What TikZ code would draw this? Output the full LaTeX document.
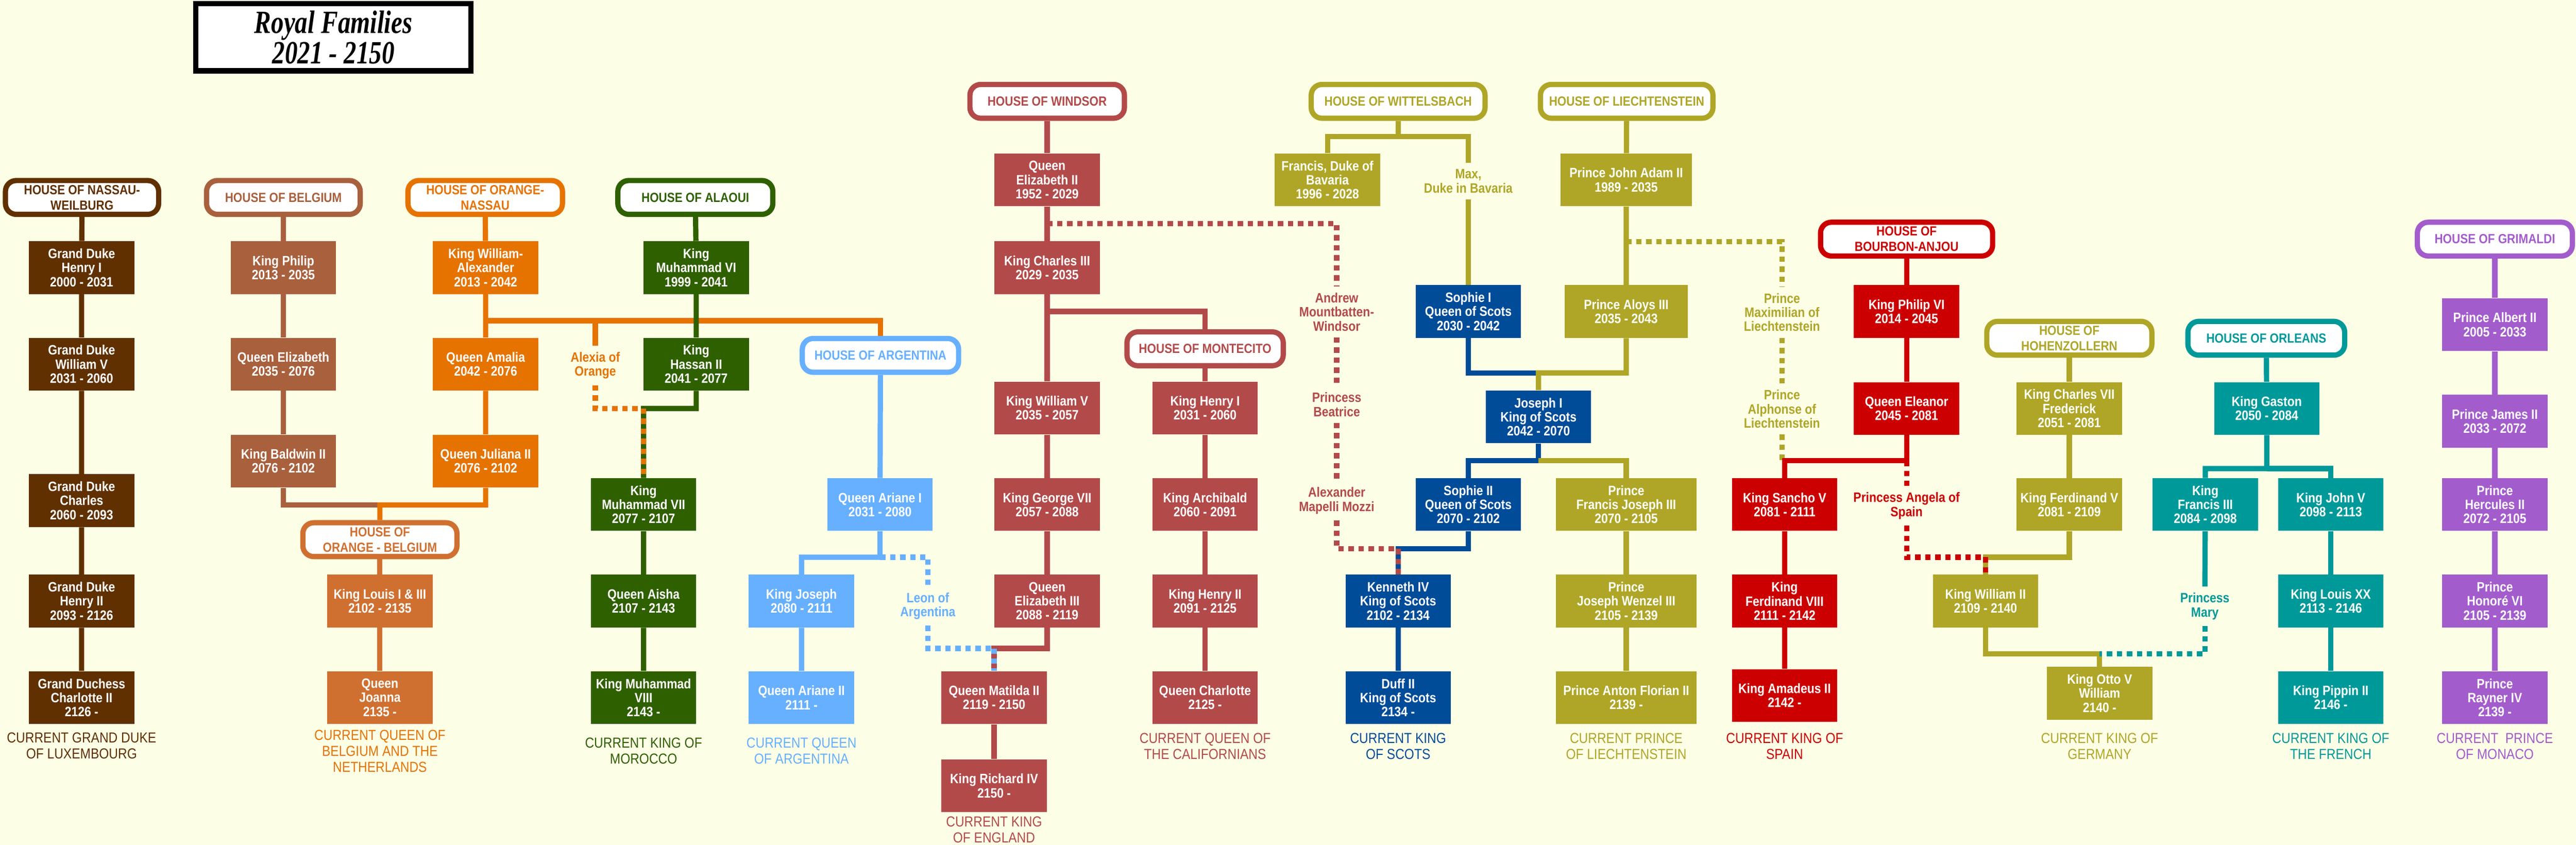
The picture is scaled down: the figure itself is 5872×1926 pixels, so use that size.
\documentclass[tikz,border=0pt]{standalone}
\usepackage{fontspec}
\setmainfont{Liberation Sans}
\newfontfamily\condfont{Liberation Sans}[FakeStretch=0.87]
\newfontfamily\titlefont{Liberation Serif}[FakeStretch=0.78]
\definecolor{bgc}{HTML}{FDFEE6}
\definecolor{nas}{HTML}{603000}
\definecolor{bel}{HTML}{A9603D}
\definecolor{ora}{HTML}{E67300}
\definecolor{orb}{HTML}{D07030}
\definecolor{grn}{HTML}{2F6000}
\definecolor{arg}{HTML}{66B0FF}
\definecolor{win}{HTML}{B34A4A}
\definecolor{oli}{HTML}{AFA627}
\definecolor{sco}{HTML}{004C99}
\definecolor{red}{HTML}{CC0000}
\definecolor{tea}{HTML}{009999}
\definecolor{pur}{HTML}{A35CCC}
\pgfdeclarelayer{bg}
\pgfsetlayers{bg,main}
\tikzset{
 pbox/.style={rectangle, fill=#1, minimum width=2.4cm, minimum height=1.2cm, inner sep=1pt, align=center, text=white, font=\condfont\fontsize{8.8}{9.1}\selectfont\bfseries},
 hb/.style={rectangle, draw=#1, text=#1, fill=white, line width=3.4pt, rounded corners=7pt, minimum height=0.77cm, align=center, inner sep=1pt, font=\condfont\fontsize{8.6}{10}\selectfont\bfseries},
 lbl/.style={text=#1, align=center, font=\condfont\fontsize{8.8}{9.1}\selectfont\bfseries, inner sep=4pt},
 cap/.style={text=#1, align=center, font=\condfont\fontsize{9.4}{10.3}\selectfont},
 ln/.style={draw=#1, line width=3.4pt},
 dl/.style={draw=#1, line width=3.4pt, dash pattern=on 3.5pt off 3pt},
}
\begin{document}
\begin{tikzpicture}[x=0.01cm,y=-0.01cm]
\begin{pgfonlayer}{bg}
\fill[bgc] (0,0) rectangle (5872,1926);
\end{pgfonlayer}
\useasboundingbox (0,0) rectangle (5872,1926);
% title
\node[draw=black, fill=white, line width=3.4pt, minimum width=6.27cm, minimum height=1.53cm, align=center, font=\titlefont\fontsize{21}{19.5}\selectfont\bfseries\itshape] (title) at (760,85) {Royal Families\\2021 - 2150};
% headers
\node[hb=nas, minimum width=3.49cm] (nh) at (187,450) {HOUSE OF NASSAU-\\WEILBURG};
\node[hb=bel, minimum width=3.5cm] (bh) at (646,450) {HOUSE OF BELGIUM};
\node[hb=ora, minimum width=3.52cm] (onh) at (1106,450) {HOUSE OF ORANGE-\\NASSAU};
\node[hb=grn, minimum width=3.53cm] (ah) at (1585,450) {HOUSE OF ALAOUI};
\node[hb=win, minimum width=3.52cm] (wh) at (2387,231) {HOUSE OF WINDSOR};
\node[hb=oli, minimum width=3.96cm] (wih) at (3187,231) {HOUSE OF WITTELSBACH};
\node[hb=oli, minimum width=3.93cm] (lh) at (3708,231) {HOUSE OF LIECHTENSTEIN};
\node[hb=red, minimum width=3.92cm] (bah) at (4346,545) {HOUSE OF\\BOURBON-ANJOU};
\node[hb=pur, minimum width=3.53cm] (gh) at (5687,545) {HOUSE OF GRIMALDI};
\node[hb=oli, minimum width=3.76cm] (hh) at (4717,771) {HOUSE OF\\HOHENZOLLERN};
\node[hb=tea, minimum width=3.57cm] (oh) at (5166,771) {HOUSE OF ORLEANS};
\node[hb=arg, minimum width=3.56cm] (argh) at (2007,810) {HOUSE OF ARGENTINA};
\node[hb=win, minimum width=3.56cm] (mh) at (2747,795) {HOUSE OF MONTECITO};
\node[hb=orb, minimum width=3.51cm] (obh) at (866,1230) {HOUSE OF\\ORANGE - BELGIUM};
% persons
\node[pbox=nas] (n1) at (186,610) {Grand Duke\\Henry I\\2000 - 2031};
\node[pbox=nas] (n2) at (186,830) {Grand Duke\\William V\\2031 - 2060};
\node[pbox=nas] (n3) at (186,1141) {Grand Duke\\Charles\\2060 - 2093};
\node[pbox=nas] (n4) at (186,1370) {Grand Duke\\Henry II\\2093 - 2126};
\node[pbox=nas] (n5) at (186,1590) {Grand Duchess\\Charlotte II\\2126 -};
\node[pbox=bel] (b1) at (646,610) {King Philip\\2013 - 2035};
\node[pbox=bel] (b2) at (646,830) {Queen Elizabeth\\2035 - 2076};
\node[pbox=bel] (b3) at (646,1051) {King Baldwin II\\2076 - 2102};
\node[pbox=ora] (on1) at (1107,610) {King William-\\Alexander\\2013 - 2042};
\node[pbox=ora] (on2) at (1107,830) {Queen Amalia\\2042 - 2076};
\node[pbox=ora] (on3) at (1107,1051) {Queen Juliana II\\2076 - 2102};
\node[pbox=orb] (ob1) at (866,1370) {King Louis I \& III\\2102 - 2135};
\node[pbox=orb] (ob2) at (866,1590) {Queen\\Joanna\\2135 -};
\node[pbox=grn] (a1) at (1587,610) {King\\Muhammad VI\\1999 - 2041};
\node[pbox=grn] (a2) at (1587,830) {King\\Hassan II\\2041 - 2077};
\node[pbox=grn] (a3) at (1467,1150) {King\\Muhammad VII\\2077 - 2107};
\node[pbox=grn] (a4) at (1467,1370) {Queen Aisha\\2107 - 2143};
\node[pbox=grn] (a5) at (1467,1590) {King Muhammad\\VIII\\2143 -};
\node[pbox=arg] (ar1) at (2006,1150) {Queen Ariane I\\2031 - 2080};
\node[pbox=arg] (ar2) at (1827,1370) {King Joseph\\2080 - 2111};
\node[pbox=arg] (ar3) at (1827,1590) {Queen Ariane II\\2111 -};
\node[pbox=win] (w1) at (2387,410) {Queen\\Elizabeth II\\1952 - 2029};
\node[pbox=win] (w2) at (2387,610) {King Charles III\\2029 - 2035};
\node[pbox=win] (w3) at (2387,930) {King William V\\2035 - 2057};
\node[pbox=win] (w4) at (2387,1150) {King George VII\\2057 - 2088};
\node[pbox=win] (w5) at (2387,1370) {Queen\\Elizabeth III\\2088 - 2119};
\node[pbox=win] (w6) at (2266,1590) {Queen Matilda II\\2119 - 2150};
\node[pbox=win] (w7) at (2266,1791) {King Richard IV\\2150 -};
\node[pbox=win] (m1) at (2747,930) {King Henry I\\2031 - 2060};
\node[pbox=win] (m2) at (2747,1150) {King Archibald\\2060 - 2091};
\node[pbox=win] (m3) at (2747,1370) {King Henry II\\2091 - 2125};
\node[pbox=win] (m4) at (2747,1590) {Queen Charlotte\\2125 -};
\node[pbox=oli] (wi1) at (3026,410) {Francis, Duke of\\Bavaria\\1996 - 2028};
\node[pbox=sco] (sc1) at (3347,710) {Sophie I\\Queen of Scots\\2030 - 2042};
\node[pbox=sco] (sc2) at (3507,950) {Joseph I\\King of Scots\\2042 - 2070};
\node[pbox=sco] (sc3) at (3347,1150) {Sophie II\\Queen of Scots\\2070 - 2102};
\node[pbox=sco] (sc4) at (3187,1370) {Kenneth IV\\King of Scots\\2102 - 2134};
\node[pbox=sco] (sc5) at (3187,1590) {Duff II\\King of Scots\\2134 -};
\node[pbox=oli, minimum width=3.0cm] (l1) at (3707,410) {Prince John Adam II\\1989 - 2035};
\node[pbox=oli, minimum width=2.8cm] (l2) at (3707,710) {Prince Aloys III\\2035 - 2043};
\node[pbox=oli, minimum width=3.2cm] (l3) at (3707,1150) {Prince\\Francis Joseph III\\2070 - 2105};
\node[pbox=oli, minimum width=3.2cm] (l4) at (3707,1370) {Prince\\Joseph Wenzel III\\2105 - 2139};
\node[pbox=oli, minimum width=3.2cm] (l5) at (3707,1590) {Prince Anton Florian II\\2139 -};
\node[pbox=red] (s1) at (4346,710) {King Philip VI\\2014 - 2045};
\node[pbox=red] (s2) at (4346,931) {Queen Eleanor\\2045 - 2081};
\node[pbox=red] (s3) at (4068,1150) {King Sancho V\\2081 - 2111};
\node[pbox=red] (s4) at (4068,1370) {King\\Ferdinand VIII\\2111 - 2142};
\node[pbox=red] (s5) at (4068,1585) {King Amadeus II\\2142 -};
\node[pbox=oli] (h1) at (4717,931) {King Charles VII\\Frederick\\2051 - 2081};
\node[pbox=oli] (h2) at (4717,1150) {King Ferdinand V\\2081 - 2109};
\node[pbox=oli] (h3) at (4526,1370) {King William II\\2109 - 2140};
\node[pbox=oli] (h4) at (4786,1580) {King Otto V\\William\\2140 -};
\node[pbox=tea] (o1) at (5167,931) {King Gaston\\2050 - 2084};
\node[pbox=tea] (o2) at (5027,1150) {King\\Francis III\\2084 - 2098};
\node[pbox=tea] (o3) at (5313,1150) {King John V\\2098 - 2113};
\node[pbox=tea] (o4) at (5313,1370) {King Louis XX\\2113 - 2146};
\node[pbox=tea] (o5) at (5313,1590) {King Pippin II\\2146 -};
\node[pbox=pur] (g1) at (5687,740) {Prince Albert II\\2005 - 2033};
\node[pbox=pur] (g2) at (5687,960) {Prince James II\\2033 - 2072};
\node[pbox=pur] (g3) at (5687,1150) {Prince\\Hercules II\\2072 - 2105};
\node[pbox=pur] (g4) at (5687,1370) {Prince\\Honoré VI\\2105 - 2139};
\node[pbox=pur] (g5) at (5687,1590) {Prince\\Rayner IV\\2139 -};
% labels
\node[lbl=ora] (alexia) at (1357,833) {Alexia of\\Orange};
\node[lbl=win] (andrew) at (3047,711) {Andrew\\Mountbatten-\\Windsor};
\node[lbl=win] (beatrice) at (3047,922) {Princess\\Beatrice};
\node[lbl=win] (alexander) at (3047,1141) {Alexander\\Mapelli Mozzi};
\node[lbl=arg] (leon) at (2115,1381) {Leon of\\Argentina};
\node[lbl=oli] (max) at (3347,413) {Max,\\Duke in Bavaria};
\node[lbl=oli] (maxim) at (4062,712) {Prince\\Maximilian of\\Liechtenstein};
\node[lbl=oli] (alphonse) at (4062,932) {Prince\\Alphonse of\\Liechtenstein};
\node[lbl=red] (angela) at (4346,1153) {Princess Angela of\\Spain};
\node[lbl=tea] (mary) at (5026,1382) {Princess\\Mary};
% captions
\node[cap=nas] (c1) at (186,1700) {CURRENT GRAND DUKE\\OF LUXEMBOURG};
\node[cap=ora] (c2) at (866,1712) {CURRENT QUEEN OF\\BELGIUM AND THE\\NETHERLANDS};
\node[cap=grn] (c3) at (1467,1711) {CURRENT KING OF\\MOROCCO};
\node[cap=arg] (c4) at (1827,1711) {CURRENT QUEEN\\OF ARGENTINA};
\node[cap=win] (c5) at (2266,1891) {CURRENT KING\\OF ENGLAND};
\node[cap=win] (c6) at (2747,1701) {CURRENT QUEEN OF\\THE CALIFORNIANS};
\node[cap=sco] (c7) at (3187,1701) {CURRENT KING\\OF SCOTS};
\node[cap=oli] (c8) at (3707,1701) {CURRENT PRINCE\\OF LIECHTENSTEIN};
\node[cap=red] (c9) at (4068,1701) {CURRENT KING OF\\SPAIN};
\node[cap=oli] (c10) at (4786,1701) {CURRENT KING OF\\GERMANY};
\node[cap=tea] (c11) at (5313,1701) {CURRENT KING OF\\THE FRENCH};
\node[cap=pur] (c12) at (5687,1701) {CURRENT\ \ PRINCE\\OF MONACO};
% junctions
\coordinate (jOB) at (866,1151);
\coordinate (jOr) at (1107,731);
\coordinate (jAx) at (1357,731);
\coordinate (jMA) at (1467,931);
\coordinate (jAxB) at (1357,931);
\coordinate (jMt) at (2387,710);
\coordinate (jAn) at (2387,510);
\coordinate (jAnB) at (3047,1251);
\coordinate (jKe) at (3187,1251);
\coordinate (jAr) at (2006,1270);
\coordinate (jLe) at (2115,1270);
\coordinate (jLeB) at (2115,1478);
\coordinate (jMat) at (2266,1478);
\coordinate (jWi) at (3187,311);
\coordinate (jJo) at (3507,850);
\coordinate (jJo2) at (3507,1050);
\coordinate (jLi) at (3707,551);
\coordinate (jSp) at (4346,1050);
\coordinate (jAnB2) at (4346,1270);
\coordinate (jWil) at (4526,1270);
\coordinate (jOt) at (4786,1490);
\coordinate (jMaB) at (5026,1490);
\coordinate (jOl) at (5167,1068);
\begin{pgfonlayer}{bg}
\draw[ln=nas] (nh) -- (n1) -- (n2) -- (n3) -- (n4) -- (n5);
\draw[ln=bel] (bh) -- (b1) -- (b2) -- (b3) |- (jOB);
\draw[ln=ora] (onh) -- (on1) -- (on2) -- (on3) |- (jOB) -- (obh);
\draw[ln=orb] (obh) -- (ob1) -- (ob2);
\draw[ln=ora] (jOr) -| (argh);
\draw[ln=ora] (jAx) -- (alexia.north);
\draw[dl=ora] (alexia.south) -- (jAxB) -- (jMA);
\draw[ln=grn] (ah) -- (a1) -- (a2) |- (jMA) -- (a3) -- (a4) -- (a5);
\draw[dl=ora] (jMA) -- (a3.north);
\draw[ln=arg] (argh) -- (ar1) -- (jAr) -| (ar2) -- (ar3);
\draw[dl=arg] (jAr) -- (jLe) -- (leon.north);
\draw[dl=arg] (leon.south) -- (jLeB) -- (jMat);
\draw[ln=win] (wh) -- (w1) -- (w2) -- (w3) -- (w4) -- (w5) |- (jMat) -- (w6) -- (w7);
\draw[dl=arg] (jMat) -- (w6.north);
\draw[ln=win] (jMt) -| (mh) -- (m1) -- (m2) -- (m3) -- (m4);
\draw[dl=win] (jAn) -| (andrew.north);
\draw[dl=win] (andrew.south) -- (beatrice.north);
\draw[dl=win] (beatrice.south) -- (alexander.north);
\draw[dl=win] (alexander.south) -- (jAnB) -- (jKe);
\draw[ln=oli] (wih) -- (jWi) -| (wi1);
\draw[ln=oli] (jWi) -| (max.north);
\draw[ln=oli] (max.south) -- (sc1);
\draw[ln=sco] (sc1) |- (jJo);
\draw[ln=oli] (lh) -- (l1) -- (l2) |- (jJo) -- (sc2);
\draw[ln=sco] (sc2) -- (jJo2) -| (sc3);
\draw[ln=oli] (jJo2) -| (l3);
\draw[ln=oli] (l3) -- (l4) -- (l5);
\draw[ln=sco] (sc3) |- (jKe) -- (sc4) -- (sc5);
\draw[dl=win] (jKe) -- (sc4.north);
\draw[dl=oli] (jLi) -| (maxim.north);
\draw[dl=oli] (maxim.south) -- (alphonse.north);
\draw[dl=oli] (alphonse.south) -- (alphonse.south |- jSp);
\draw[ln=red] (bah) -- (s1) -- (s2) -- (jSp) -| (s3);
\draw[ln=red] (s3) -- (s4) -- (s5);
\draw[dl=red] (jSp) -- (angela.north);
\draw[dl=red] (angela.south) -- (jAnB2) -- (jWil);
\draw[ln=oli] (hh) -- (h1) -- (h2) |- (jWil) -- (h3) |- (jOt) -- (h4);
\draw[dl=red] (jWil) -- (h3.north);
\draw[ln=tea] (oh) -- (o1) -- (jOl) -| (o2);
\draw[ln=tea] (jOl) -| (o3);
\draw[ln=tea] (o3) -- (o4) -- (o5);
\draw[ln=tea] (o2) -- (mary.north);
\draw[dl=tea] (mary.south) -- (jMaB) -- (jOt);
\draw[ln=pur] (gh) -- (g1) -- (g2) -- (g3) -- (g4) -- (g5);
\end{pgfonlayer}
\end{tikzpicture}
\end{document}
